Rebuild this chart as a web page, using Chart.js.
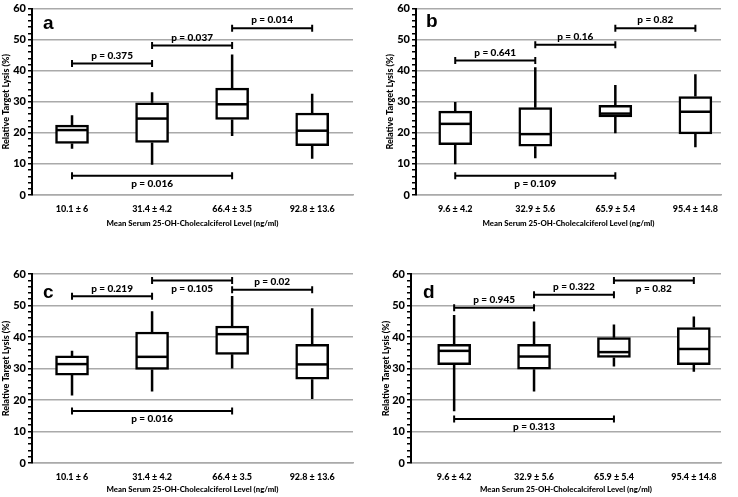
<!DOCTYPE html>
<html>
<head>
<meta charset="utf-8">
<script src="https://cdn.jsdelivr.net/npm/chart.js@4.4.1/dist/chart.umd.min.js"></script>
<style>
  html, body { margin: 0; padding: 0; background: #fff; }
  #wrap { position: relative; width: 738px; height: 497px; background: #fff; }
  canvas { position: absolute; }
</style>
</head>
<body>
<div id="wrap">
  <canvas id="chartA" width="369" height="248" style="left:0;top:0"></canvas>
  <canvas id="chartB" width="369" height="248" style="left:369px;top:0"></canvas>
  <canvas id="chartC" width="369" height="249" style="left:0;top:248px"></canvas>
  <canvas id="chartD" width="369" height="249" style="left:369px;top:248px"></canvas>
</div>
<script>
const labelsAC = ["10.1 ± 6", "31.4 ± 4.2", "66.4 ± 3.5", "92.8 ± 13.6"];
const labelsBD = ["9.6 ± 4.2", "32.9 ± 5.6", "65.9 ± 5.4", "95.4 ± 14.8"];
const xTitle = "Mean Serum 25-OH-Cholecalciferol Level (ng/ml)";
const yTitle = "Relative Target Lysis (%)";
const yMin = 0;
const yMax = 60;

// panel a
const aMin = [14.9, 9.7, 19.0, 11.7];
const aQ1 = [16.6, 16.9, 24.3, 15.9];
const aMed = [20.9, 24.6, 29.2, 20.7];
const aQ3 = [22.5, 29.7, 34.4, 26.4];
const aMax = [25.7, 33.1, 45.2, 32.6];
const aPvals = [
  [0, 1, 42.3, "p = 0.375", "above"],
  [1, 2, 48.1, "p = 0.037", "above"],
  [2, 3, 53.7, "p = 0.014", "above"],
  [0, 2, 6.2, "p = 0.016", "below"],
];

// panel b
const bMin = [9.9, 11.8, 19.9, 15.4];
const bQ1 = [16.2, 15.7, 25.1, 19.7];
const bMed = [22.9, 19.6, 26.2, 26.8];
const bQ3 = [27.0, 28.1, 28.9, 31.7];
const bMax = [29.9, 41.1, 35.4, 38.9];
const bPvals = [
  [0, 1, 43.3, "p = 0.641", "above"],
  [1, 2, 48.4, "p = 0.16", "above"],
  [2, 3, 53.7, "p = 0.82", "above"],
  [0, 2, 6.2, "p = 0.109", "below"],
];

// panel c
const cMin = [21.4, 22.7, 30.0, 20.3];
const cQ1 = [27.9, 29.7, 34.5, 26.6];
const cMed = [31.4, 33.7, 40.9, 31.3];
const cQ3 = [34.0, 41.6, 43.5, 37.7];
const cMax = [35.6, 48.2, 53.0, 49.1];
const cPvals = [
  [0, 1, 52.9, "p = 0.219", "above"],
  [1, 2, 57.9, "p = 0.105", "below"],
  [2, 3, 55.0, "p = 0.02", "above"],
  [0, 2, 16.5, "p = 0.016", "below"],
];

// panel d
const dMin = [16.4, 22.7, 30.6, 29.0];
const dQ1 = [31.2, 29.8, 33.5, 31.2];
const dMed = [35.6, 33.8, 35.2, 36.2];
const dQ3 = [37.7, 37.7, 39.8, 43.0];
const dMax = [47.0, 44.9, 44.0, 46.5];
const dPvals = [
  [0, 1, 49.3, "p = 0.945", "above"],
  [1, 2, 53.4, "p = 0.322", "above"],
  [2, 3, 57.9, "p = 0.82", "below"],
  [0, 2, 14.0, "p = 0.313", "below"],
];

const FONT = "Lato, 'Open Sans', sans-serif";

// whiskers, medians, p-value brackets and panel letter
const boxExtras = {
  id: "boxExtras",
  afterDatasetsDraw(chart, args, opts) {
    const { ctx, chartArea } = chart;
    const x = chart.scales.x;
    const y = chart.scales.y;
    const meta = chart.getDatasetMeta(0);
    ctx.save();
    ctx.strokeStyle = "#000";
    ctx.lineWidth = 2.5;

    meta.data.forEach((bar, i) => {
      const cx = bar.x;
      const half = bar.width / 2 - 1;
      ctx.beginPath();
      ctx.moveTo(cx, y.getPixelForValue(opts.max[i]));
      ctx.lineTo(cx, y.getPixelForValue(opts.q3[i]));
      ctx.moveTo(cx, y.getPixelForValue(opts.q1[i]));
      ctx.lineTo(cx, y.getPixelForValue(opts.min[i]));
      ctx.stroke();
      const my = y.getPixelForValue(opts.med[i]);
      ctx.beginPath();
      ctx.moveTo(cx - half, my);
      ctx.lineTo(cx + half, my);
      ctx.stroke();
    });

    // p-value brackets
    ctx.lineWidth = 2;
    ctx.font = "900 10px " + FONT;
    ctx.fillStyle = "#000";
    ctx.textAlign = "center";
    ctx.textBaseline = "middle";
    opts.pvals.forEach(([i, j, v, txt, where]) => {
      const x1 = x.getPixelForValue(i);
      const x2 = x.getPixelForValue(j);
      const py = y.getPixelForValue(v);
      ctx.beginPath();
      ctx.moveTo(x1, py);
      ctx.lineTo(x2, py);
      ctx.moveTo(x1, py - 3.5);
      ctx.lineTo(x1, py + 3.5);
      ctx.moveTo(x2, py - 3.5);
      ctx.lineTo(x2, py + 3.5);
      ctx.stroke();
      ctx.fillText(txt, (x1 + x2) / 2, where === "above" ? py - 8 : py + 8);
    });

    ctx.font = "bold 19px 'Liberation Sans', Arial, sans-serif";
    ctx.textAlign = "left";
    ctx.fillText(opts.letter, chartArea.left + opts.letterX, chartArea.top + opts.letterY);
    ctx.restore();
  },
};

function makePanel(id, letter, labels, mins, q1s, meds, q3s, maxs, pvals, lay) {
  const ctx = document.getElementById(id).getContext("2d");
  return new Chart(ctx, {
    type: "bar",
    data: {
      datasets: [
        {
          data: labels.map((l, i) => ({ x: i, y: [q1s[i], q3s[i]] })),
          backgroundColor: "#fff",
          borderColor: "#000",
          borderWidth: 2.5,
          borderSkipped: false,
          barThickness: 33,
        },
      ],
    },
    options: {
      responsive: false,
      animation: false,
      layout: {
        padding: { top: lay.top, right: lay.right, bottom: lay.bottom, left: 0 },
      },
      plugins: {
        legend: { display: false },
        tooltip: { enabled: false },
        boxExtras: {
          letter: letter,
          letterX: lay.letterX,
          letterY: lay.letterY,
          min: mins,
          q1: q1s,
          med: meds,
          q3: q3s,
          max: maxs,
          pvals: pvals,
        },
      },
      scales: {
        x: {
          type: "linear",
          offset: false,
          min: lay.xMin,
          max: lay.xMax,
          afterBuildTicks: (scale) => {
            scale.ticks = labels.map((l, i) => ({ value: i }));
          },
          afterFit: (scale) => {
            scale.height = lay.xH;
          },
          grid: { display: false, drawTicks: false, offset: false },
          border: { display: true, color: "#aaa", width: 1.5 },
          ticks: {
            padding: 9,
            color: "#000",
            font: { family: FONT, size: 9, weight: 900 },
            maxRotation: 0,
            callback: (v) => labels[v],
          },
          title: {
            display: true,
            text: xTitle,
            color: "#000",
            padding: 0,
            font: { family: FONT, size: 7.8, weight: 900 },
          },
        },
        y: {
          min: yMin,
          max: yMax,
          afterFit: (scale) => {
            scale.width = lay.axisLeft;
          },
          grid: {
            color: (c) => (c.tick && c.tick.value % 10 === 0 ? "#aaa" : "rgba(0,0,0,0)"),
            lineWidth: 1.5,
            tickColor: "#000",
            tickLength: 4,
            tickWidth: 1.5,
          },
          border: { display: true, color: "#000", width: 2 },
          ticks: {
            stepSize: 2,
            autoSkip: false,
            padding: 2,
            color: "#000",
            font: { family: FONT, size: 11, weight: 900 },
            callback: (v) => (v % 10 === 0 ? v : ""),
          },
          title: {
            display: true,
            text: yTitle,
            color: "#000",
            padding: { top: lay.yTitlePad, bottom: 0 },
            font: { family: FONT, size: 9, weight: 900 },
          },
        },
      },
    },
    plugins: [boxExtras],
  });
}

makePanel("chartA", "a", labelsAC, aMin, aQ1, aMed, aQ3, aMax, aPvals,
  { top: 5, right: 16, bottom: 20, xH: 33, axisLeft: 32, xMin: -0.5, xMax: 3.51, yTitlePad: 1, letterX: 11, letterY: 15 });
makePanel("chartB", "b", labelsBD, bMin, bQ1, bMed, bQ3, bMax, bPvals,
  { top: 5, right: 17, bottom: 20, xH: 33, axisLeft: 47, xMin: -0.49, xMax: 3.32, yTitlePad: 16, letterX: 10, letterY: 13 });
makePanel("chartC", "c", labelsAC, cMin, cQ1, cMed, cQ3, cMax, cPvals,
  { top: 26, right: 16, bottom: 2.5, xH: 31.5, axisLeft: 32, xMin: -0.5, xMax: 3.51, yTitlePad: 1, letterX: 11, letterY: 19 });
makePanel("chartD", "d", labelsBD, dMin, dQ1, dMed, dQ3, dMax, dPvals,
  { top: 26, right: 17, bottom: 2.5, xH: 31.5, axisLeft: 42, xMin: -0.54, xMax: 3.34, yTitlePad: 11.6, letterX: 12, letterY: 19 });
</script>
</body>
</html>
